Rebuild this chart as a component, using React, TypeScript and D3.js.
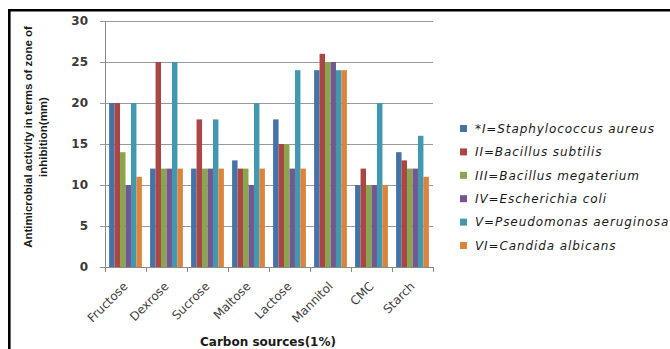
import React from "react";
import * as d3 from "d3";

// Carbon sources tested
const categories = ["Fructose", "Dexrose", "Sucrose", "Maltose", "Lactose", "Mannitol", "CMC", "Starch"];

// Organisms (legend order)
const seriesNames = [
  "*I=Staphylococcus aureus",
  "II=Bacillus subtilis",
  "III=Bacillus  megaterium",
  "IV=Escherichia  coli",
  "V=Pseudomonas aeruginosa",
  "VI=Candida albicans",
];

// Zone of inhibition (mm), one array per organism, in category order
const sAureus = [20, 12, 12, 13, 18, 24, 10, 14];
const bSubtilis = [20, 25, 18, 12, 15, 26, 12, 13];
const bMegaterium = [14, 12, 12, 12, 15, 25, 10, 12];
const eColi = [10, 12, 12, 10, 12, 25, 10, 12];
const pAeruginosa = [20, 25, 18, 20, 24, 24, 20, 16];
const cAlbicans = [11, 12, 12, 12, 12, 24, 10, 11];

const seriesValues = [sAureus, bSubtilis, bMegaterium, eColi, pAeruginosa, cAlbicans];

const yTicks = [0, 5, 10, 15, 20, 25, 30];

const colors = ["#4572A7", "#AA4643", "#89A54E", "#71588F", "#4198AF", "#DB843D"];

const W = 670;
const H = 349;
const plot = { left: 105, right: 433, top: 21, bottom: 267 };

export default function App() {
  const y = d3.scaleLinear().domain([0, 30]).range([plot.bottom, plot.top]);
  const x0 = d3.scaleBand<string>().domain(categories).range([plot.left, plot.right]);
  const bw = x0.bandwidth();
  const gap = (bw * 1.5) / 7.5;
  const x1 = d3
    .scaleBand<number>()
    .domain(d3.range(seriesNames.length))
    .range([gap / 2, bw - gap / 2]);

  const axisColor = "#8a8a8a";

  return (
    <div style={{ position: "absolute", left: 0, top: 0 }}>
      <svg width={W} height={H} style={{ display: "block", background: "#fff" }}>
        {/* gridlines and y ticks */}
        {yTicks.map((t) => (
          <g key={t}>
            <line
              x1={plot.left - 5}
              x2={plot.right}
              y1={y(t) + 0.5}
              y2={y(t) + 0.5}
              stroke={t === 0 ? axisColor : "#9a9a9a"}
              strokeWidth={1}
            />
            <text
              x={88}
              y={y(t)}
              dy="0.36em"
              textAnchor="end"
              fontFamily="DejaVu Sans"
              fontWeight="bold"
              fontSize={12}
              fill="#3a3a3a"
            >
              {t}
            </text>
          </g>
        ))}

        {/* bars */}
        {categories.map((c, ci) => (
          <g key={c} transform={`translate(${x0(c)},0)`}>
            {seriesValues.map((vals, si) => (
              <rect
                key={si}
                x={x1(si)}
                y={y(vals[ci])}
                width={x1.bandwidth()}
                height={y(0) - y(vals[ci])}
                fill={colors[si]}
              />
            ))}
          </g>
        ))}

        {/* axes */}
        <line x1={plot.left + 0.5} x2={plot.left + 0.5} y1={plot.top} y2={plot.bottom + 0.5} stroke={axisColor} />
        {d3.range(categories.length + 1).map((i) => {
          const xx = plot.left + i * bw;
          return (
            <line key={i} x1={xx + 0.5} x2={xx + 0.5} y1={plot.bottom} y2={plot.bottom + 5} stroke={axisColor} />
          );
        })}

        {/* category labels */}
        {categories.map((c) => {
          const cx = (x0(c) as number) + bw / 2 + 3;
          const cy = 287;
          return (
            <text
              key={c}
              x={cx}
              y={cy}
              transform={`rotate(-45 ${cx} ${cy})`}
              textAnchor="end"
              fontFamily="DejaVu Sans"
              fontSize={12}
              fill="#404040"
            >
              {c}
            </text>
          );
        })}

        {/* axis titles */}
        <text
          x={268}
          y={346}
          textAnchor="middle"
          fontFamily="DejaVu Sans"
          fontWeight="bold"
          fontSize={12}
          fill="#1a1a1a"
        >
          Carbon sources(1%)
        </text>
        <g transform="translate(32,137) rotate(-90)">
          <text
            x={0}
            y={0}
            textAnchor="middle"
            fontFamily="Liberation Sans Narrow, Liberation Sans"
            fontWeight="bold"
            fontSize={11.5}
            fill="#1a1a1a"
          >
            Antimicrobial activity in terms of zone of
          </text>
          <text
            x={0}
            y={15}
            textAnchor="middle"
            fontFamily="Liberation Sans Narrow, Liberation Sans"
            fontWeight="bold"
            fontSize={11.5}
            fill="#1a1a1a"
          >
            inhibition(mm)
          </text>
        </g>

        {/* legend */}
        {seriesNames.map((name, i) => {
          const ly = 128.5 + i * 23.4;
          return (
            <g key={name}>
              <rect x={460} y={ly - 3.5} width={7} height={7} fill={colors[i]} />
              <text
                x={475}
                y={ly}
                dy="0.36em"
                fontFamily="DejaVu Sans"
                fontStyle="italic"
                fontSize={12}
                letterSpacing={0.9}
                fill="#1a1a1a"
              >
                {name}
              </text>
            </g>
          );
        })}

        {/* frame */}
        <path d={`M9.3 ${H} V10.3 H${W}`} fill="none" stroke="#000" strokeWidth={2.6} />
      </svg>
    </div>
  );
}
